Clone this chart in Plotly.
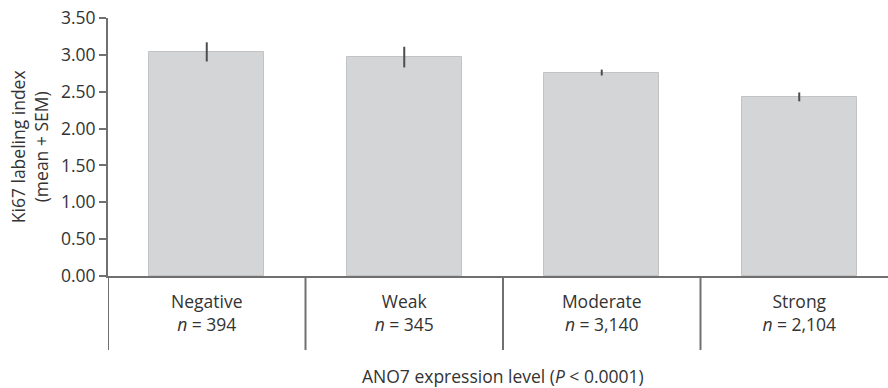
import plotly.graph_objects as go

categories = ["Negative", "Weak", "Moderate", "Strong"]
n_labels = ["394", "345", "3,140", "2,104"]
means = [3.04, 2.97, 2.76, 2.43]
sem = [0.13, 0.14, 0.04, 0.06]
y_ticks = [0.0, 0.5, 1.0, 1.5, 2.0, 2.5, 3.0, 3.5]

FONT = "Open Sans"
FS = 17.5
TXT = "#333333"
AX = "#707070"

tick_text = [f"{c}<br><i>n</i> = {n}" for c, n in zip(categories, n_labels)]

fig = go.Figure()
fig.add_trace(go.Bar(
    x=categories, y=means, width=0.58,
    marker=dict(color="#d4d5d7", line=dict(color="#c2c3c5", width=1)),
    error_y=dict(type="data", array=sem, visible=True, thickness=2, width=0, color="#4d4d4d"),
    showlegend=False,
))

# category separators (boundaries between categories)
for i in range(len(categories)):
    fig.add_shape(type="line", xref="x", yref="paper",
                  x0=i - 0.5, x1=i - 0.5, y0=0, y1=-0.287,
                  line=dict(color=AX, width=2))

W, H = 888, 388
L, R, T, B = 108, 0, 18, 112
pw = W - L - R
cat_px = 197.5

fig.update_layout(
    width=W, height=H,
    margin=dict(l=L, r=R, t=T, b=B, pad=0),
    plot_bgcolor="white", paper_bgcolor="white",
    font=dict(family=FONT, size=FS, color=TXT),
    bargap=0,
    xaxis=dict(
        range=[-0.5, -0.5 + pw / cat_px],
        tickmode="array", tickvals=categories, ticktext=tick_text,
        showline=True, linecolor=AX, linewidth=2,
        ticks="outside", ticklen=9, tickcolor="rgba(0,0,0,0)",
        showgrid=False, zeroline=False, automargin=False,
        tickfont=dict(size=FS, color=TXT, family=FONT),
    ),
    yaxis=dict(
        range=[0, 3.5], tickmode="array", tickvals=y_ticks, tickformat=".2f",
        showline=True, linecolor=AX, linewidth=2,
        ticks="outside", ticklen=7, tickcolor=AX, tickwidth=1.5,
        showgrid=False, zeroline=False, automargin=False,
        tickfont=dict(size=FS, color=TXT, family=FONT),
    ),
    annotations=[
        dict(text="ANO7 expression level (<i>P</i> < 0.0001)", xref="paper", yref="paper",
             x=0.507, y=-0.388, xanchor="center", yanchor="middle", showarrow=False,
             font=dict(size=FS, color=TXT, family=FONT)),
        dict(text="Ki67 labeling index<br>(mean + SEM)", xref="paper", yref="paper",
             x=-0.101, y=0.5, xanchor="center", yanchor="middle", showarrow=False,
             textangle=-90, font=dict(size=FS, color=TXT, family=FONT)),
    ],
)

fig.write_html(
    "out.html",
    config={"displayModeBar": False},
    post_script="document.body.style.margin='0';document.body.style.overflow='hidden';",
)
